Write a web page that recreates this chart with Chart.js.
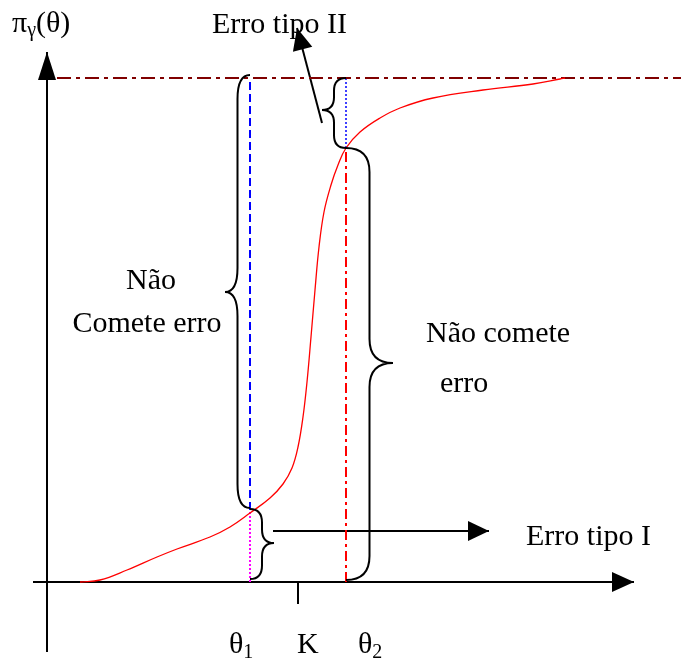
<!DOCTYPE html>
<html>
<head>
<meta charset="utf-8">
<script src="https://cdn.jsdelivr.net/npm/chart.js@4.4.1/dist/chart.umd.min.js"></script>
<style>
html, body { margin: 0; padding: 0; background: #fff; }
#wrap { width: 681px; height: 671px; }
</style>
</head>
<body>
<div id="wrap"><canvas id="myChart" width="681" height="671"></canvas></div>
<script>
// power function pi_gamma(theta) (x = theta, y = height above axis)
var curveX = [33, 53, 80, 110, 130, 163, 183, 203, 223, 236, 245, 251, 256, 260, 264, 268, 272, 277, 284, 291, 299, 313, 333, 353, 386, 436, 486, 513, 518];
var curveY = [0, 2, 12, 25, 33, 45, 55, 69, 84, 98, 114, 135, 165, 200, 245, 292, 335, 370, 397, 417, 434, 450, 464, 474, 484, 492, 498, 503, 504];

// marks on the theta axis
var theta1 = 203;
var kValue = 251;
var theta2 = 299;
var topLevel = 504;      // pi = 1
var piAtTheta1 = 72;
var piAtTheta2 = 434;

// braces: [attach x, y start, y end, tip x, tip y]
var braces = [
    [203, 507, 74, 178, 290],
    [203, 73, 3, 227, 39],
    [299, 504, 434, 275, 472],
    [299, 434, 2, 346, 219]
];

var labels = [
    {text: 'Erro tipo II', x: 165, y: 549},
    {text: 'Não', x: 104, y: 293, align: 'center'},
    {text: 'Comete erro', x: 100, y: 250, align: 'center'},
    {text: 'Não comete', x: 379, y: 240},
    {text: 'erro', x: 393, y: 190},
    {text: 'Erro tipo I', x: 479, y: 37},
    {text: 'K', x: 250, y: -71}
];
var subLabels = [
    {text: 'θ', sub: '1', x: 182, y: -71},
    {text: 'θ', sub: '2', x: 311, y: -71}
];

function seg(x1, y1, x2, y2, color, width, dash) {
    return {
        data: [{x: x1, y: y1}, {x: x2, y: y2}],
        borderColor: color,
        borderWidth: width,
        borderDash: dash || [],
        showLine: true,
        pointRadius: 0,
        fill: false
    };
}

var curve = [];
for (let i = 0; i < curveX.length; i++) {
    curve.push({x: curveX[i], y: curveY[i]});
}

// arrows: shaft from -> to, head drawn at "to"
var arrows = [
    {from: [0, -70], to: [0, 530], len: 28, w: 9},
    {from: [-14, 0], to: [587, 0], len: 22, w: 10},
    {from: [226, 51], to: [442, 51], len: 21, w: 10},
    {from: [275, 459], to: [250, 554], len: 22, w: 10}
];

var datasets = [
    {
        data: curve,
        borderColor: '#ff0000',
        borderWidth: 1.3,
        showLine: true,
        pointRadius: 0,
        tension: 0.4,
        fill: false
    },
    seg(10, topLevel, 634, topLevel, '#800000', 2, [14, 5, 4, 5]),
    seg(theta1, piAtTheta1, theta1, topLevel - 2, '#0000ff', 2, [8, 4]),
    seg(theta1, 0, theta1, piAtTheta1, '#ff00ff', 2, [2, 2]),
    seg(theta2, piAtTheta2, theta2, topLevel, '#0000ff', 1.5, [2, 2]),
    seg(theta2, 0, theta2, piAtTheta2, '#ff0000', 2, [10, 4, 3, 4]),
    seg(kValue, 0, kValue, -22, '#000', 2)
];
arrows.forEach(function (a) {
    datasets.push(seg(a.from[0], a.from[1], a.to[0], a.to[1], '#000', 2));
});

var FONT = '"Liberation Serif", "Times New Roman", serif';

var decor = {
    id: 'decor',
    afterDatasetsDraw: function (chart) {
        var ctx = chart.ctx;
        var sx = chart.scales.x, sy = chart.scales.y;
        ctx.save();
        // arrow heads
        ctx.fillStyle = '#000';
        arrows.forEach(function (a) {
            var x1 = sx.getPixelForValue(a.from[0]), y1 = sy.getPixelForValue(a.from[1]);
            var x2 = sx.getPixelForValue(a.to[0]), y2 = sy.getPixelForValue(a.to[1]);
            var ang = Math.atan2(y2 - y1, x2 - x1);
            ctx.beginPath();
            ctx.moveTo(x2, y2);
            ctx.lineTo(x2 - a.len * Math.cos(ang) + a.w * Math.sin(ang), y2 - a.len * Math.sin(ang) - a.w * Math.cos(ang));
            ctx.lineTo(x2 - a.len * Math.cos(ang) - a.w * Math.sin(ang), y2 - a.len * Math.sin(ang) + a.w * Math.cos(ang));
            ctx.closePath();
            ctx.fill();
        });
        // braces
        ctx.strokeStyle = '#000';
        ctx.lineWidth = 2;
        braces.forEach(function (b) {
            var xe = sx.getPixelForValue(b[0]);
            var yt = sy.getPixelForValue(b[1]);
            var yb = sy.getPixelForValue(b[2]);
            var xt = sx.getPixelForValue(b[3]);
            var ytip = sy.getPixelForValue(b[4]);
            var xm = (xe + xt) / 2;
            var r = Math.min(24, (ytip - yt) / 2.5, (yb - ytip) / 2.5);
            ctx.beginPath();
            ctx.moveTo(xe, yt);
            ctx.quadraticCurveTo(xm, yt, xm, yt + r);
            ctx.lineTo(xm, ytip - r);
            ctx.quadraticCurveTo(xm, ytip, xt, ytip);
            ctx.quadraticCurveTo(xm, ytip, xm, ytip + r);
            ctx.lineTo(xm, yb - r);
            ctx.quadraticCurveTo(xm, yb, xe, yb);
            ctx.stroke();
        });
        // texts
        ctx.fillStyle = '#000';
        ctx.textBaseline = 'alphabetic';
        ctx.font = '30px ' + FONT;
        labels.forEach(function (l) {
            ctx.textAlign = l.align || 'left';
            ctx.fillText(l.text, sx.getPixelForValue(l.x), sy.getPixelForValue(l.y));
        });
        ctx.textAlign = 'left';
        subLabels.forEach(function (l) {
            var px = sx.getPixelForValue(l.x), py = sy.getPixelForValue(l.y);
            ctx.font = '30px ' + FONT;
            ctx.fillText(l.text, px, py);
            var w = ctx.measureText(l.text).width;
            ctx.font = '20px ' + FONT;
            ctx.fillText(l.sub, px + w, py + 5);
        });
        // y axis title pi_gamma(theta)
        var tx = sx.getPixelForValue(-35), ty = sy.getPixelForValue(550);
        ctx.font = '30px ' + FONT;
        ctx.fillText('π', tx, ty);
        var w1 = ctx.measureText('π').width;
        ctx.font = '20px ' + FONT;
        ctx.fillText('γ', tx + w1, ty + 4);
        var w2 = ctx.measureText('γ').width;
        ctx.font = '30px ' + FONT;
        ctx.fillText('(θ)', tx + w1 + w2, ty);
        ctx.restore();
    }
};

var ctx = document.getElementById('myChart');
var myChart = new Chart(ctx, {
    type: 'scatter',
    data: {datasets: datasets},
    options: {
        responsive: false,
        animation: false,
        layout: {padding: 0},
        scales: {
            x: {type: 'linear', min: -47, max: 634, display: false},
            y: {type: 'linear', min: -89, max: 582, display: false}
        },
        plugins: {
            legend: {display: false},
            tooltip: {enabled: false}
        }
    },
    plugins: [decor]
});
</script>
</body>
</html>
